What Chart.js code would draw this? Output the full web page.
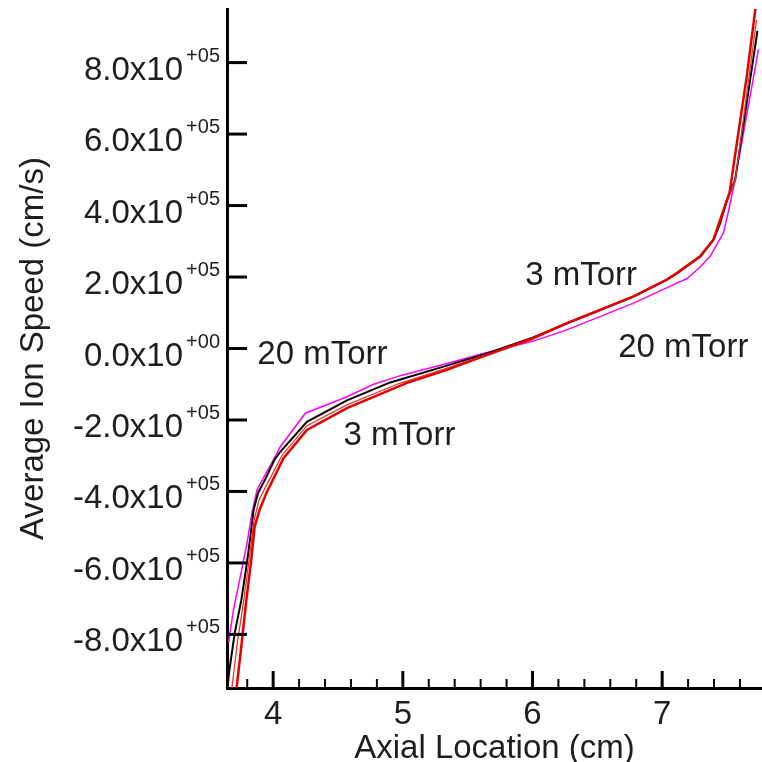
<!doctype html>
<html>
<head>
<meta charset="utf-8">
<title>Average Ion Speed</title>
<script src="https://cdn.jsdelivr.net/npm/chart.js@4/dist/chart.umd.min.js"></script>
<style>
  body { margin: 0; background: #fff; }
  canvas { display: block; }
</style>
</head>
<body>
<canvas id="speedChart" width="762" height="762"></canvas>
<script>
// speeds are in units of 1e5 cm/s, positions in cm
var redX = [3.716, 3.754, 3.793, 3.831, 3.857, 3.895, 3.947, 4.08, 4.26, 4.569, 5.032, 5.34, 5.62, 6.0, 6.265, 6.779, 7.036, 7.113, 7.293, 7.396, 7.447, 7.52, 7.588, 7.653, 7.717, 7.73];
var redY = [-9.57, -8.35, -7.05, -5.92, -4.99, -4.52, -4.05, -3.07, -2.28, -1.67, -0.96, -0.6, -0.22, 0.28, 0.71, 1.46, 1.93, 2.11, 2.58, 3.05, 3.6, 4.36, 6.04, 7.63, 9.45, 9.8];

var redThinX = [3.68, 3.725, 3.775, 3.815, 3.85, 3.89, 3.945, 4.07, 4.26, 4.569, 4.97, 5.34, 5.62, 6.0, 6.265, 6.779, 7.036, 7.113, 7.293, 7.396, 7.447, 7.505, 7.565, 7.728];
var redThinY = [-9.55, -8.2, -7.0, -5.9, -4.85, -4.25, -3.85, -2.98, -2.16, -1.58, -0.98, -0.55, -0.2, 0.29, 0.7, 1.46, 1.93, 2.1, 2.58, 3.04, 3.55, 4.17, 4.73, 9.2];

var blackX = [3.647, 3.659, 3.703, 3.754, 3.793, 3.824, 3.849, 3.883, 3.947, 4.009, 4.055, 4.26, 4.569, 4.903, 5.34, 5.62, 6.0, 6.265, 6.779, 7.036, 7.113, 7.293, 7.396, 7.447, 7.499, 7.563, 7.735];
var blackY = [-9.55, -9.09, -7.97, -7.05, -6.12, -5.28, -4.52, -4.05, -3.6, -3.12, -2.89, -2.05, -1.45, -0.95, -0.48, -0.17, 0.3, 0.7, 1.45, 1.92, 2.1, 2.57, 3.04, 3.5, 4.15, 4.72, 8.89];

var magentaX = [3.657, 3.693, 3.746, 3.798, 3.837, 3.875, 3.924, 4.001, 4.055, 4.248, 4.569, 4.775, 4.98, 5.34, 5.62, 6.0, 6.265, 6.779, 7.113, 7.19, 7.293, 7.37, 7.473, 7.52, 7.563, 7.743];
var magentaY = [-8.21, -7.33, -6.4, -5.45, -4.6, -3.96, -3.63, -3.12, -2.75, -1.81, -1.35, -1.0, -0.76, -0.42, -0.14, 0.2, 0.52, 1.27, 1.83, 1.95, 2.28, 2.58, 3.24, 3.98, 4.73, 8.37];

// curve labels, anchored at the left end of the text baseline
var noteText = ["20 mTorr", "3 mTorr", "3 mTorr", "20 mTorr"];
var noteX = [3.878, 4.543, 5.944, 6.661];
var noteY = [-0.43, -2.70, 1.786, -0.233];

var xMin = 3.644, xMax = 7.77, xStep = 0.2;
var yMin = -9.5, yMax = 9.5, yStep = 2;

var font = '"Liberation Sans", Arial, sans-serif';
var textColor = '#1e1e1e';

function toPoints(xs, ys) {
    return xs.map(function(x, i) { return { x: x, y: ys[i] }; });
}

function lineSet(label, xs, ys, color, width) {
    return {
        label: label,
        data: toPoints(xs, ys),
        borderColor: color,
        backgroundColor: color,
        borderWidth: width,
        pointRadius: 0,
        showLine: true,
        tension: 0,
        fill: false
    };
}

// inward tick marks, y labels with superscript exponents, curve labels
var axisDecor = {
    id: 'axisDecor',
    afterDraw: function(chart) {
        var ctx = chart.ctx, area = chart.chartArea;
        var xs = chart.scales.x, ys = chart.scales.y;
        ctx.save();
        ctx.strokeStyle = '#000';
        xs.ticks.forEach(function(t) {
            var px = xs.getPixelForValue(t.value);
            var major = Math.abs(t.value - Math.round(t.value)) < 1e-6;
            ctx.lineWidth = major ? 3 : 2;
            ctx.beginPath();
            ctx.moveTo(px, area.bottom);
            ctx.lineTo(px, area.bottom - (major ? 17 : 9));
            ctx.stroke();
        });
        ctx.fillStyle = textColor;
        ctx.textAlign = 'right';
        ctx.textBaseline = 'alphabetic';
        ys.ticks.forEach(function(t) {
            var py = ys.getPixelForValue(t.value);
            ctx.lineWidth = 3;
            ctx.beginPath();
            ctx.moveTo(area.left, py);
            ctx.lineTo(area.left + 20, py);
            ctx.stroke();

            var mant = t.value.toFixed(1) + 'x10';
            var expo = t.value === 0 ? '+00' : '+05';
            ctx.font = '20px ' + font;
            var w = ctx.measureText(expo).width;
            ctx.fillText(expo, area.left - 7, py - 1);
            ctx.font = '33px ' + font;
            ctx.fillText(mant, area.left - 10 - w, py + 17);
        });
        ctx.textAlign = 'left';
        ctx.font = '33px ' + font;
        noteText.forEach(function(txt, i) {
            ctx.fillText(txt, xs.getPixelForValue(noteX[i]), ys.getPixelForValue(noteY[i]));
        });
        ctx.restore();
    }
};

var ctx = document.getElementById('speedChart').getContext('2d');
var chart = new Chart(ctx, {
    type: 'scatter',
    data: {
        datasets: [
            lineSet('3 mTorr', redX, redY, '#e40000', 2.5),
            lineSet('3 mTorr (b)', redThinX, redThinY, '#e23a30', 1.3),
            lineSet('mid', blackX, blackY, '#000000', 2),
            lineSet('20 mTorr', magentaX, magentaY, '#ff00ff', 1.5)
        ]
    },
    options: {
        responsive: false,
        animation: false,
        devicePixelRatio: 1,
        layout: { padding: { left: 0, right: 0, top: 9, bottom: 0 } },
        plugins: {
            legend: { display: false },
            tooltip: { enabled: false }
        },
        scales: {
            x: {
                type: 'linear',
                min: xMin,
                max: xMax,
                grid: { display: false, drawTicks: false },
                border: { display: true, color: '#000', width: 3 },
                ticks: {
                    stepSize: xStep,
                    includeBounds: false,
                    autoSkip: false,
                    maxRotation: 0,
                    padding: 7,
                    color: textColor,
                    font: { family: font, size: 33 },
                    callback: function(v) {
                        return Math.abs(v - Math.round(v)) < 1e-6 ? String(Math.round(v)) : '';
                    }
                },
                title: {
                    display: true,
                    text: 'Axial Location (cm)',
                    color: textColor,
                    font: { family: font, size: 33, lineHeight: 0.8 },
                    padding: { top: 0, bottom: 0 }
                },
                afterFit: function(scale) { scale.height = 74; }
            },
            y: {
                type: 'linear',
                min: yMin,
                max: yMax,
                grid: { display: false, drawTicks: false },
                border: { display: true, color: '#000', width: 3 },
                ticks: {
                    stepSize: yStep,
                    includeBounds: false,
                    display: false
                },
                title: {
                    display: true,
                    text: 'Average Ion Speed (cm/s)',
                    color: textColor,
                    font: { family: font, size: 33, lineHeight: 1.2 },
                    padding: { top: 14, bottom: 0 }
                },
                afterFit: function(scale) { scale.width = 227; }
            }
        }
    },
    plugins: [axisDecor]
});
</script>
</body>
</html>
